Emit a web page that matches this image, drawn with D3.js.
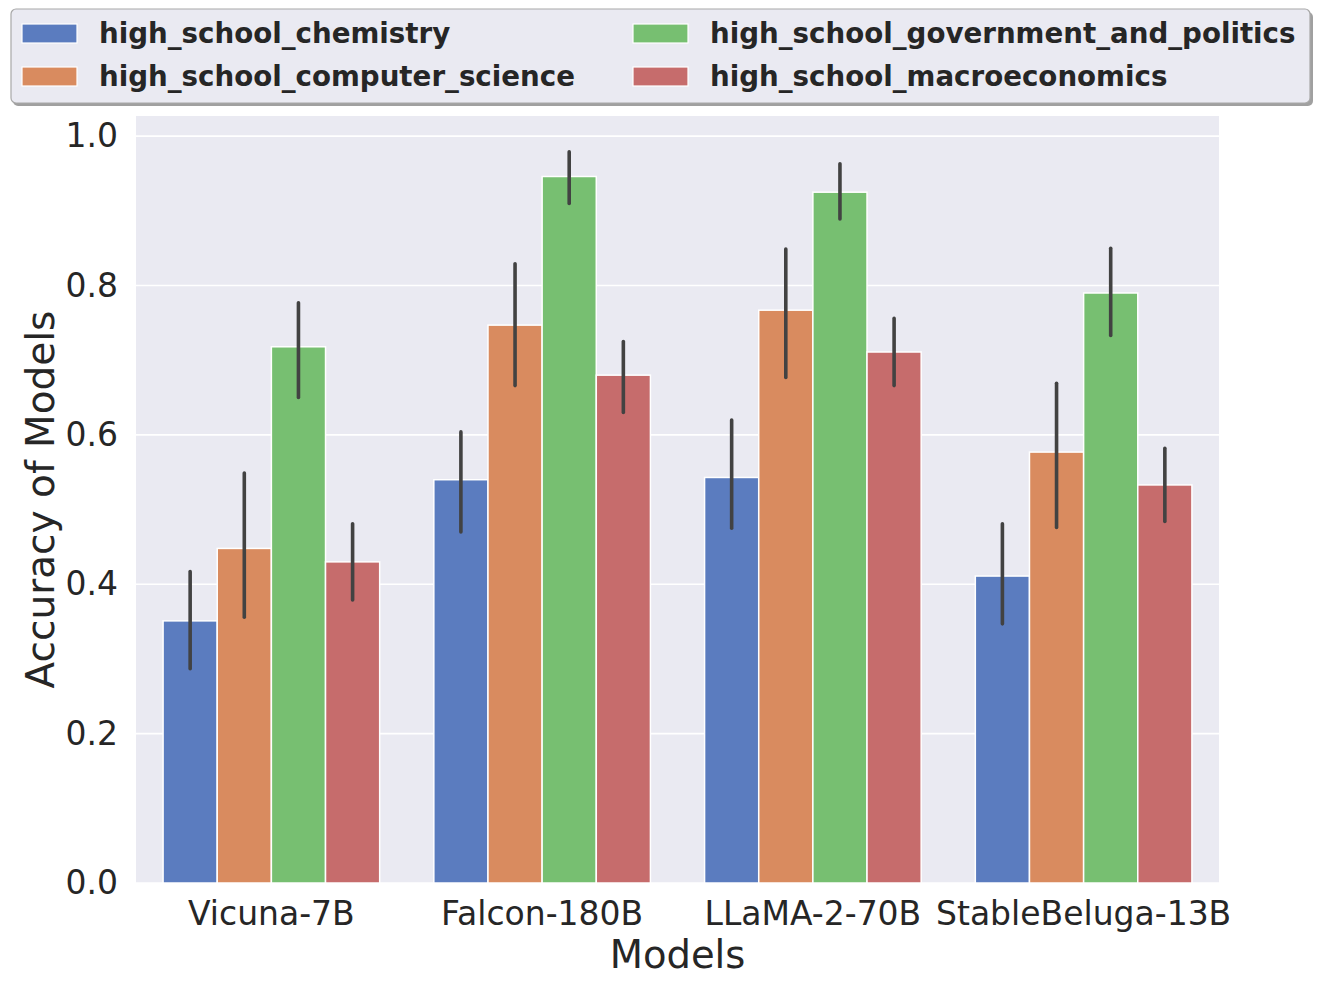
<!DOCTYPE html>
<html>
<head>
<meta charset="utf-8">
<script src="https://cdn.jsdelivr.net/npm/d3@7"></script>
<style>
  body { margin: 0; background: #fff; }
  text { font-family: "DejaVu Sans", sans-serif; fill: #262626; }
</style>
</head>
<body>
<svg id="chart" width="1319" height="985"></svg>
<script>
// data
var models = ["Vicuna-7B", "Falcon-180B", "LLaMA-2-70B", "StableBeluga-13B"];
var subjects = ["high_school_chemistry", "high_school_computer_science",
                "high_school_government_and_politics", "high_school_macroeconomics"];
var colors = ["#5b7cbf", "#d98b5f", "#77bf71", "#c66c6c"];
// accuracy per subject, one entry per model
var chemistry   = [0.351, 0.540, 0.543, 0.411];
var compsci     = [0.448, 0.747, 0.767, 0.577];
var government  = [0.718, 0.946, 0.925, 0.790];
var macro       = [0.430, 0.680, 0.711, 0.533];
// error bar ends (low / high)
var chemistryLo  = [0.287, 0.470, 0.475, 0.347], chemistryHi  = [0.417, 0.604, 0.620, 0.481];
var compsciLo    = [0.356, 0.666, 0.677, 0.476], compsciHi    = [0.549, 0.829, 0.849, 0.669];
var governmentLo = [0.650, 0.910, 0.889, 0.733], governmentHi = [0.777, 0.979, 0.963, 0.850];
var macroLo      = [0.379, 0.630, 0.666, 0.484], macroHi      = [0.481, 0.725, 0.756, 0.582];
var yTicks = [0.0, 0.2, 0.4, 0.6, 0.8, 1.0];

var series = [
  { vals: chemistry,  lo: chemistryLo,  hi: chemistryHi },
  { vals: compsci,    lo: compsciLo,    hi: compsciHi },
  { vals: government, lo: governmentLo, hi: governmentHi },
  { vals: macro,      lo: macroLo,      hi: macroHi }
];

var svg = d3.select("#chart");
// plot box ("top" is taken by window.top, so use other names)
var pLeft = 136, pRight = 1219, pTop = 116, pBottom = 883;

var x = d3.scaleBand().domain(models).range([pLeft, pRight]).paddingInner(0.2).paddingOuter(0.1);
var xs = d3.scaleBand().domain(subjects).range([0, x.bandwidth()]);
var y = d3.scaleLinear().domain([0, 1.027]).range([pBottom, pTop]);

// plot background
svg.append("rect").attr("x", pLeft).attr("y", pTop)
  .attr("width", pRight - pLeft).attr("height", pBottom - pTop).attr("fill", "#eaeaf2");

// grid
svg.append("g").selectAll("line").data(yTicks).enter().append("line")
  .attr("x1", pLeft).attr("x2", pRight)
  .attr("y1", function (d) { return y(d); }).attr("y2", function (d) { return y(d); })
  .attr("stroke", "#fff").attr("stroke-width", 1.6);

// y axis labels
var yAxis = d3.axisLeft(y).tickValues(yTicks).tickFormat(d3.format(".1f")).tickSize(0).tickPadding(18);
var yg = svg.append("g").attr("transform", "translate(" + pLeft + ",0)").call(yAxis);
yg.select(".domain").remove();
yg.selectAll("text").style("font-size", "33px").attr("fill", "#262626");

// x axis labels
var xAxis = d3.axisBottom(x).tickSize(0).tickPadding(19);
var xg = svg.append("g").attr("transform", "translate(0," + pBottom + ")").call(xAxis);
xg.select(".domain").remove();
xg.selectAll("text").style("font-size", "33px").attr("fill", "#262626");

// bars
var groups = svg.append("g").selectAll("g").data(series).enter().append("g");
groups.selectAll("rect")
  .data(function (s, si) { return s.vals.map(function (v, i) { return { si: si, i: i, v: v }; }); })
  .enter().append("rect")
  .attr("x", function (d) { return x(models[d.i]) + xs(subjects[d.si]); })
  .attr("y", function (d) { return y(d.v); })
  .attr("width", xs.bandwidth())
  .attr("height", function (d) { return y(0) - y(d.v); })
  .attr("fill", function (d) { return colors[d.si]; })
  .attr("stroke", "#fff").attr("stroke-width", 1.5);

// error bars
groups.selectAll("line")
  .data(function (s, si) { return s.vals.map(function (v, i) { return { si: si, i: i, lo: s.lo[i], hi: s.hi[i] }; }); })
  .enter().append("line")
  .attr("x1", function (d) { return x(models[d.i]) + xs(subjects[d.si]) + xs.bandwidth() / 2; })
  .attr("x2", function (d) { return x(models[d.i]) + xs(subjects[d.si]) + xs.bandwidth() / 2; })
  .attr("y1", function (d) { return y(d.lo); })
  .attr("y2", function (d) { return y(d.hi); })
  .attr("stroke", "#424242").attr("stroke-width", 3.6).attr("stroke-linecap", "round");

// axis titles
svg.append("text").attr("x", (pLeft + pRight) / 2).attr("y", 968)
  .attr("text-anchor", "middle").style("font-size", "38.5px").text("Models");
svg.append("text").attr("transform", "translate(54," + (pTop + pBottom) / 2 + ") rotate(-90)")
  .attr("text-anchor", "middle").style("font-size", "39px").text("Accuracy of Models");

// legend
var lg = svg.append("g");
lg.append("rect").attr("x", 13).attr("y", 12).attr("width", 1300).attr("height", 94)
  .attr("rx", 5).attr("fill", "#8f8f8f").attr("opacity", 0.85);
lg.append("rect").attr("x", 11).attr("y", 9).attr("width", 1299).attr("height", 94)
  .attr("rx", 5).attr("fill", "#eaeaf2").attr("stroke", "#a8a8a8").attr("stroke-width", 1.2);
var colX = [22, 633];
var rowY = [24, 67];
var items = lg.selectAll("g.item").data(subjects).enter().append("g")
  .attr("transform", function (d, i) {
    return "translate(" + colX[Math.floor(i / 2)] + "," + rowY[i % 2] + ")";
  });
items.append("rect").attr("width", 55).attr("height", 19)
  .attr("fill", function (d, i) { return colors[i]; })
  .attr("stroke", "#fff").attr("stroke-width", 1.2);
items.append("text").attr("x", 77).attr("y", 19)
  .style("font-size", "27.7px").style("font-weight", "bold").text(function (d) { return d; });
</script>
</body>
</html>
